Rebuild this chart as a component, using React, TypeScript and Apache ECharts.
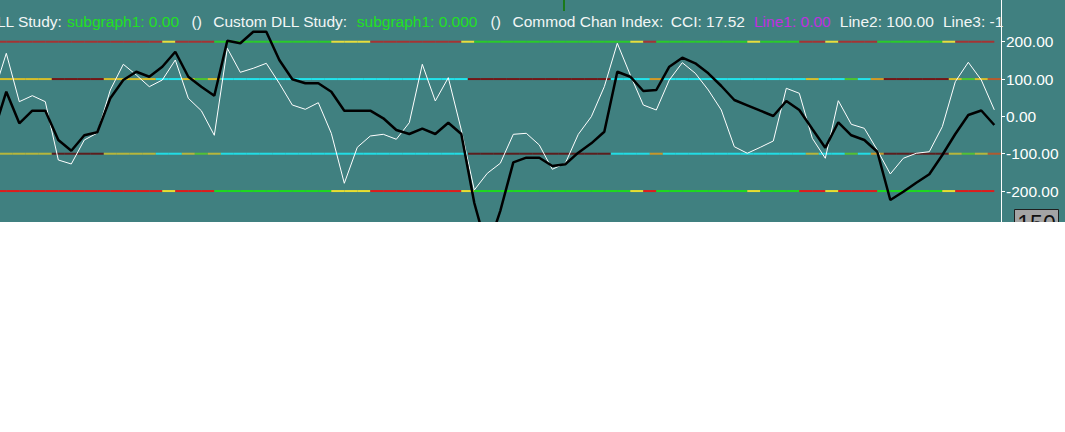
import React, { useEffect, useRef } from "react";
import * as echarts from "echarts";

// bar index (first one lies just off the left edge)
const barIndex: number[] = Array.from({ length: 78 }, (_, i) => i - 1);

// thick black study line
const blackValues: number[] = [
  -44.5, 66.2, -18.5, 15.3, 15.3, -63.2, -91.9, -50.6, -42.6, 48.5,
  97.5, 119.7, 106.3, 133.1, 173.3, 106.3, 79.6, 55.5, 202.8, 195.8,
  226.9, 226.9, 151.1, 99.4, 88.7, 88.7, 66.2, 15.3, 15.3, 15.3,
  -5.1, -36.4, -47.1, -32.9, -47.1, -16.9, -47.1, -232, -358, -253,
  -123, -110.6, -110.6, -132.9, -128.3, -97.2, -72.1, -41, 119.7, 106.3,
  68, 70.7, 133.1, 157.2, 142.2, 115.5, 81.4, 43.9, 29.7, 15.3,
  1.1, 41.3, 17.1, -33.8, -83.8, -15.8, -50.6, -63.2, -94.6, -224,
  -201.7, -177.6, -155.1, -103.4, -47.1, 3.8, 15.8, -23,
];

// thin white CCI line
const cciValues: number[] = [
  58.4, 169, 39.4, 55.5, 39.4, -116.8, -127.5, -63.2, -44.5, 70.7,
  139.6, 110.9, 79.6, 97.5, 151.1, 48.5, 15.3, -50.6, 182.4, 118.1,
  128.9, 142.2, 88.7, 30.5, 19, 36.7, -45.3, -179.2, -82.8, -52.5,
  -48, -61.3, -16.9, 139.6, 41.3, 103.7, -36.4, -197.2, -152.4, -125.6,
  -48, -45.3, -76.6, -141.7, -125.6, -48, -0.8, 79.6, 195.8, 110.9,
  30.5, 17.1, 97.5, 143.9, 115.5, 70.7, 17.1, -81.2, -98.8, -82.8,
  -65.9, 75.3, 61.9, -58.7, -112.2, 42.1, -21.2, -31.9, -90, -154.3,
  -112.2, -98.8, -94.6, -27.6, 93, 144.9, 97.5, 17.52,
];

// level lines
const outerLevels: number[] = [200, -200];
const innerLevels: number[] = [100, -100];
const yTicks: number[] = [-200, -100, 0, 100, 200];

// per-bar state of the ±200 lines (segment ending at bar j)
const outerStates: string[] =
  "RRRRRRRRRRRRRYRRRGGGGGGGGGYYYRRRRRRRYGGGGGGGGGGGGYRGGGGGGGYGGGRRYRRRGGGGGYRRR".split("");
// per-bar state of the ±100 lines (centred on bar j)
const innerStates: string[] =
  "YYYYMMMMYYYYCCYGYCCCCCCCCCCCCCCCCCCCMMMMMMMMMMMCCCOCCCCCCCCCCCYCCGCOMMMMMYGYB".split("");

const palettes: Record<string, Record<string, string>> = {
  "200": { R: "#A53333", Y: "#E8DE3C", G: "#2ACB2A" },
  "-200": { R: "#DE1C1C", Y: "#E8DE30", G: "#1EDA1E" },
  "100": { C: "#22E4EC", M: "#731616", Y: "#D6BE2A", G: "#4CC430", O: "#D49A24", B: "#B85A2C" },
  "-100": { C: "#22DCE4", M: "#5C1E1E", Y: "#B6B63C", G: "#54C034", O: "#C8962A", B: "#B05A30" },
};

const headerTexts: { text: string; x: number; color: string }[] = [
  { text: "LL Study:", x: -3, color: "#F2F6F6" },
  { text: "subgraph1: 0.00", x: 67, color: "#22E022" },
  { text: "()", x: 191.5, color: "#F2F6F6" },
  { text: "Custom DLL Study:", x: 213.3, color: "#F2F6F6" },
  { text: "subgraph1: 0.000", x: 356.8, color: "#22E022" },
  { text: "()", x: 490.5, color: "#F2F6F6" },
  { text: "Commod Chan Index:", x: 512.5, color: "#F2F6F6" },
  { text: "CCI: 17.52", x: 670.8, color: "#F2F6F6" },
  { text: "Line1: 0.00", x: 754, color: "#C030E0" },
  { text: "Line2: 100.00", x: 839.8, color: "#F2F6F6" },
  { text: "Line3: -1", x: 943, color: "#F2F6F6" },
];

const FONT = '"Liberation Sans", Arial, sans-serif';

export default function App() {
  const ref = useRef<HTMLDivElement>(null);

  useEffect(() => {
    if (!ref.current) return;
    const chart = echarts.init(ref.current, undefined, { renderer: "svg" });

    const segs: { x0: number; x1: number; level: number; color: string }[] = [];
    outerLevels.forEach((lv) => {
      outerStates.forEach((s, j) => {
        segs.push({ x0: j - 1, x1: j, level: lv, color: palettes[String(lv)][s] });
      });
    });
    innerLevels.forEach((lv) => {
      innerStates.forEach((s, j) => {
        segs.push({ x0: j - 0.5, x1: j + 0.5, level: lv, color: palettes[String(lv)][s] });
      });
    });

    const graphics: any[] = headerTexts.map((h) => ({
      type: "text",
      x: h.x,
      y: 21.3,
      z: 10,
      style: {
        text: h.text,
        fill: h.color,
        fontSize: 15.5,
        fontFamily: FONT,
        verticalAlign: "middle",
        align: "left",
      },
    }));
    graphics.push({
      type: "line",
      z: 10,
      shape: { x1: 564, y1: 0, x2: 564, y2: 11 },
      style: { stroke: "#1A7A1A", lineWidth: 2 },
    });
    graphics.push({
      type: "rect",
      z: 10,
      shape: { x: 1014.5, y: 209.5, width: 44, height: 26 },
      style: { fill: "#A4A4A4", stroke: "#1E1E1E", lineWidth: 1 },
    });
    graphics.push({
      type: "text",
      z: 11,
      x: 1036.5,
      y: 224,
      style: {
        text: "150",
        fill: "#111111",
        fontSize: 23,
        fontFamily: FONT,
        align: "center",
        verticalAlign: "middle",
      },
    });

    chart.setOption({
      animation: false,
      backgroundColor: "#408080",
      grid: { left: 0, right: 64, top: 0, bottom: 0 },
      xAxis: {
        type: "value",
        min: -0.485,
        max: 76.515,
        show: false,
        splitLine: { show: false },
      },
      yAxis: {
        type: "value",
        position: "right",
        min: -282.9,
        max: 311.8,
        splitLine: { show: false },
        axisLine: { show: true, onZero: false, lineStyle: { color: "#FFFFFF", width: 1 } },
        axisTick: {
          show: true,
          length: 4,
          lineStyle: { color: "#FFFFFF" },
          customValues: yTicks,
        },
        axisLabel: {
          show: true,
          color: "#FFFFFF",
          fontSize: 15.5,
          fontFamily: FONT,
          margin: 5,
          customValues: yTicks,
          formatter: (v: number) => v.toFixed(2),
        },
      },
      series: [
        {
          type: "custom",
          coordinateSystem: "cartesian2d",
          silent: true,
          z: 1,
          data: segs.map((s) => [s.x0, s.x1, s.level]),
          encode: { x: [0, 1], y: 2 },
          renderItem: (params: any, api: any) => {
            const a = api.coord([api.value(0), api.value(2)]);
            const b = api.coord([api.value(1), api.value(2)]);
            return {
              type: "line",
              shape: { x1: a[0], y1: a[1], x2: b[0], y2: b[1] },
              style: { stroke: segs[params.dataIndex].color, lineWidth: 2, lineCap: "butt" },
            };
          },
        },
        {
          type: "line",
          name: "CCI",
          z: 3,
          clip: true,
          symbol: "none",
          silent: true,
          data: barIndex.map((x, i) => [x, cciValues[i]]),
          lineStyle: { color: "#FFFFFF", width: 1 },
        },
        {
          type: "line",
          name: "Study",
          z: 4,
          clip: true,
          symbol: "none",
          silent: true,
          data: barIndex.map((x, i) => [x, blackValues[i]]),
          lineStyle: { color: "#000000", width: 2.5 },
        },
      ],
      graphic: graphics,
    });

    return () => chart.dispose();
  }, []);

  return (
    <div
      ref={ref}
      style={{ position: "absolute", left: 0, top: 0, width: 1065, height: 222 }}
    />
  );
}
